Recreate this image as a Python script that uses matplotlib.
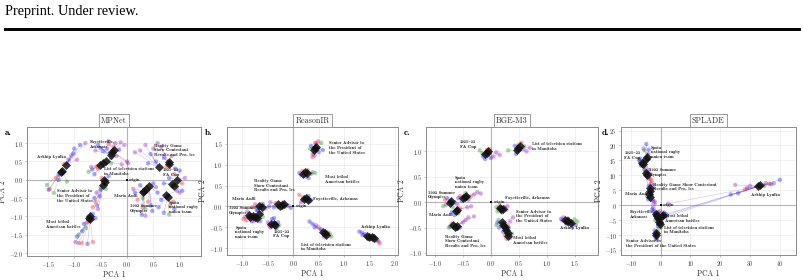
import matplotlib
matplotlib.use("Agg")
import matplotlib.pyplot as plt
from matplotlib.lines import Line2D

plt.rcParams['font.family'] = ['cmr10', 'DejaVu Serif']
plt.rcParams['mathtext.fontset'] = 'cm'
plt.rcParams['axes.formatter.use_mathtext'] = True
plt.rcParams['axes.unicode_minus'] = True

ENTITIES = ["Arkhip Lyulka", "Fayetteville, Arkansas", "List of television stations in Manitoba",
            "Senior Advisor to the President of the United States", "Most lethal American battles",
            "Maria Anfil", "1992 Summer Olympics", "Spain national rugby union team",
            "Reality Game Show Contestant Results and Profiles", "1921–22 FA Cup"]

COLORS = {"b": "#1a1aff", "r": "#ff2020", "g": "#1f9a1f", "p": "#9a22b8"}

# ---------------- MPNet ----------------
mpnet_centers = [
    [(-1.23, 0.25), (-1.15, 0.41), (-1.26, 0.20)],
    [(-0.28, 0.77), (-0.31, 0.67), (-0.24, 0.80)],
    [(-0.51, 0.41), (-0.40, 0.50), (-0.45, 0.46)],
    [(-0.43, 0.00), (-0.45, -0.13), (-0.42, -0.06)],
    [(-0.70, -0.99), (-0.70, -1.07), (-0.73, -1.03)],
    [(0.33, -0.31), (0.37, -0.26)],
    [(0.42, -0.18), (0.30, -0.33)],
    [(0.74, -0.42), (0.77, -0.46)],
    [(0.79, 0.48), (0.60, 0.36), (0.80, 0.42)],
    [(0.95, 0.00), (0.86, -0.12), (0.89, -0.17)],
]
mpnet_points = [
    [(-0.89, 0.95, 'b', 1), (-0.79, 1.00, 'p', 1), (-1.00, 0.85, 'b', 1), (-1.06, 0.66, 'p', 1),
     (-1.11, 0.55, 'b', 1), (-0.95, 0.55, 'p', 1), (-1.20, 0.43, 'r', 1), (-1.52, -0.14, 'g', 0),
     (-1.49, -0.27, 'b', 2), (-1.47, -0.25, 'r', 2), (-1.39, -0.36, 'g', 2), (-1.30, 0.00, 'b', 0),
     (-1.14, -0.05, 'g', 0), (-1.30, 0.14, 'b', 0), (-1.35, 0.05, 'r', 0), (-1.02, 0.72, 'b', 1)],
    [(-0.22, 1.00, 'p', 0), (-0.05, 0.95, 'p', 0), (-0.35, 1.05, 'p', 2), (-0.50, 0.86, 'b', 1),
     (-0.45, 0.78, 'b', 1), (-0.35, 0.97, 'r', 2), (0.00, 0.50, 'p', 0), (0.02, 0.45, 'p', 0),
     (-0.15, 0.82, 'b', 2), (-0.25, 0.90, 'r', 0), (-0.38, 0.85, 'b', 1), (-0.60, 0.80, 'p', 1),
     (-0.12, 1.02, 'p', 2), (-0.55, 0.95, 'b', 1)],
    [(-0.73, 0.22, 'g', 0), (-0.66, 0.28, 'b', 0), (-0.58, 0.36, 'r', 0), (-0.30, 0.60, 'b', 1),
     (-0.10, 0.42, 'p', 1), (-0.62, 0.15, 'b', 2), (-0.30, 0.45, 'g', 1), (-0.55, 0.30, 'r', 2),
     (-0.20, 0.65, 'p', 1), (-0.68, 0.35, 'p', 0)],
    [(-0.50, -0.27, 'b', 1), (-0.52, -0.45, 'b', 1), (-0.57, -0.70, 'b', 1), (-0.60, -0.60, 'r', 1),
     (-0.50, -0.20, 'g', 2), (-0.62, -0.50, 'b', 1), (-0.55, -0.80, 'p', 1), (-0.35, 0.10, 'b', 0),
     (-0.40, -0.25, 'g', 2), (-0.48, 0.05, 'r', 0), (-0.58, -0.35, 'p', 2), (-0.65, -0.75, 'r', 1)],
    [(-0.65, -0.93, 'b', 0), (-0.75, -1.15, 'r', 1), (-0.95, -1.55, 'b', 1), (-0.98, -1.70, 'p', 1),
     (-0.92, -1.73, 'p', 1), (-0.86, -1.73, 'r', 1), (-0.92, -1.50, 'g', 2), (-0.75, -1.75, 'b', 1),
     (-0.65, -1.70, 'r', 1), (-0.82, -1.20, 'b', 2), (-0.78, -1.32, 'g', 2), (-0.60, -1.05, 'b', 0),
     (-0.85, -1.40, 'b', 2)],
    [(0.25, -0.15, 'b', 0), (0.20, -0.55, 'r', 0), (0.15, -0.35, 'b', 0), (0.30, -0.50, 'g', 1),
     (0.50, -0.10, 'b', 1), (0.55, -0.20, 'p', 1), (0.12, -0.25, 'p', 0)],
    [(0.30, -0.75, 'r', 1), (0.35, -0.80, 'g', 1), (0.28, -0.95, 'b', 1), (0.35, -0.98, 'p', 1),
     (0.48, -0.85, 'b', 0), (0.45, -0.70, 'b', 0), (0.58, -0.35, 'b', 0), (0.40, -0.60, 'r', 0)],
    [(0.82, -0.72, 'r', 1), (0.80, -0.95, 'g', 1), (0.70, -0.90, 'b', 1), (0.88, -0.60, 'r', 0),
     (0.65, -0.55, 'b', 0), (0.95, -0.30, 'p', 0), (0.60, -0.75, 'b', 1), (0.90, -0.80, 'b', 1)],
    [(0.35, 0.95, 'p', 1), (0.25, 0.80, 'p', 1), (0.50, 0.85, 'p', 0), (0.45, 0.70, 'b', 1),
     (0.65, 0.90, 'p', 0), (0.70, 0.60, 'b', 0), (0.75, 0.35, 'r', 2), (0.55, 0.50, 'b', 1),
     (0.15, 0.75, 'p', 1), (0.85, 0.65, 'p', 0), (0.40, 0.45, 'b', 1), (0.92, 0.30, 'b', 2),
     (0.58, 1.00, 'p', 0)],
    [(1.00, 0.25, 'b', 0), (1.05, -0.10, 'r', 1), (1.05, -0.30, 'b', 2), (1.00, -0.35, 'p', 2),
     (0.95, -0.18, 'g', 1), (0.90, 0.15, 'r', 0), (0.80, 0.05, 'b', 0), (1.10, 0.05, 'p', 0),
     (0.70, -0.10, 'b', 1)],
]
mpnet_labels = [
    ("Arkhip Lyulka", -1.71, 0.61), ("Fayetteville,\nArkansas", -0.71, 0.97),
    ("List of television stations\nin Manitoba", -0.44, 0.23),
    ("Senior Advisor to\nthe President of\nthe United States", -1.33, -0.44),
    ("Maria Anfil", -0.25, -0.44), ("1992 Summer\nOlympics", 0.06, -0.78),
    ("Most lethal\nAmerican battles", -1.53, -1.22),
    ("Reality Game\nShow Contestant\nResults and Pro- les", 0.51, 0.80),
    ("1921–22\nFA Cup", 0.68, 0.20), ("Spain\nnational rugby\nunion team", 0.79, -0.75),
    ("origin", 0.04, 0.0),
]

# ---------------- ReasonIR ----------------
reasonir_centers = [
    [(1.49, -0.72), (1.55, -0.74), (1.59, -0.76), (1.45, -0.70)],
    [(0.25, 0.20), (0.22, 0.17), (0.28, 0.15)],
    [(0.62, -0.64), (0.58, -0.60), (0.65, -0.67)],
    [(0.42, 1.40), (0.40, 1.36), (0.44, 1.43)],
    [(0.23, 0.82), (0.20, 0.78), (0.26, 0.80)],
    [(-0.68, 0.00), (-0.62, -0.02)],
    [(-0.88, -0.20), (-0.85, -0.25), (-0.80, -0.22)],
    [(-0.75, -0.24), (-0.68, -0.18), (-0.72, -0.28)],
    [(-0.30, 0.05), (-0.22, 0.03), (-0.18, 0.06), (-0.26, 0.00)],
    [(-0.38, -0.42), (-0.44, -0.42), (-0.35, -0.45)],
]
reasonir_points = [
    [(1.30, -0.60, 'b', 3), (1.35, -0.62, 'p', 3), (1.40, -0.66, 'b', 3), (1.70, -0.88, 'r', 2),
     (1.62, -0.82, 'r', 2), (1.65, -0.80, 'b', 2), (1.50, -0.78, 'p', 1), (1.56, -0.70, 'g', 1),
     (1.36, -0.68, 'b', 0), (1.68, -0.84, 'p', 2)],
    [(0.12, 0.28, 'r', 1), (0.15, 0.10, 'p', 1), (0.35, 0.15, 'b', 2), (0.30, 0.25, 'b', 0),
     (0.20, 0.22, 'g', 0), (0.32, 0.12, 'p', 2), (0.18, 0.15, 'r', 1)],
    [(0.32, -0.36, 'b', 1), (0.38, -0.42, 'b', 1), (0.45, -0.45, 'p', 1), (0.50, -0.50, 'r', 1),
     (0.55, -0.55, 'b', 0), (0.70, -0.70, 'p', 2), (0.75, -0.72, 'g', 2), (0.68, -0.62, 'r', 2),
     (0.42, -0.50, 'b', 1), (0.60, -0.72, 'p', 0), (0.72, -0.65, 'g', 2)],
    [(0.49, 1.56, 'r', 2), (0.43, 1.52, 'r', 2), (0.55, 1.52, 'g', 2), (0.58, 1.35, 'b', 0),
     (0.42, 1.22, 'p', 1), (0.38, 1.25, 'p', 1), (0.35, 1.45, 'b', 0), (0.38, 1.18, 'r', 1),
     (0.50, 1.30, 'b', 0), (0.45, 1.50, 'p', 2), (0.33, 1.38, 'g', 1)],
    [(0.38, 0.82, 'g', 2), (0.43, 0.80, 'g', 2), (0.30, 0.68, 'b', 0), (0.15, 0.75, 'p', 1),
     (0.18, 0.85, 'r', 1), (0.25, 0.72, 'b', 0), (0.35, 0.78, 'p', 2), (0.28, 0.87, 'r', 0),
     (0.12, 0.80, 'b', 1)],
    [(-0.75, 0.05, 'p', 0), (-0.80, -0.02, 'r', 0), (-0.60, 0.06, 'b', 1), (-0.55, -0.05, 'p', 1),
     (-0.72, -0.08, 'b', 0), (-0.65, 0.05, 'r', 1)],
    [(-0.98, -0.30, 'r', 0), (-0.95, -0.25, 'p', 0), (-0.75, -0.30, 'b', 2), (-0.90, -0.12, 'p', 0),
     (-0.82, -0.35, 'b', 1), (-0.78, -0.20, 'g', 2), (-0.92, -0.33, 'r', 1)],
    [(-0.65, -0.35, 'b', 2), (-0.62, -0.15, 'p', 1), (-0.82, -0.28, 'r', 0), (-0.70, -0.10, 'b', 1),
     (-0.60, -0.25, 'g', 1), (-0.78, -0.35, 'p', 2)],
    [(-0.45, 0.10, 'p', 0), (-0.48, 0.00, 'b', 0), (-0.35, 0.08, 'r', 0), (-0.10, 0.02, 'p', 2),
     (-0.05, -0.03, 'b', 2), (-0.20, 0.10, 'r', 1), (-0.30, -0.02, 'p', 3), (-0.15, 0.00, 'g', 2),
     (-0.38, -0.02, 'b', 3)],
    [(-0.42, -0.30, 'b', 1), (-0.38, -0.28, 'b', 0), (-0.50, -0.38, 'p', 1), (-0.48, -0.45, 'r', 1),
     (-0.28, -0.45, 'g', 2), (-0.30, -0.38, 'b', 0), (-0.45, -0.50, 'p', 1), (-0.33, -0.52, 'b', 2)],
]
reasonir_labels = [
    ("Senior Advisor to\nthe President of\nthe United States", 0.71, 1.40),
    ("Most lethal\nAmerican battles", 0.62, 0.65), ("Fayetteville, Arkansas", 0.39, 0.18),
    ("origin", 0.06, 0.0), ("Reality Game\nShow Contestant\nResults and Pro- les", -0.78, 0.50),
    ("Maria Anfil", -1.20, 0.18), ("1992 Summer\nOlympics", -1.27, -0.10),
    ("Spain\nnational rugby\nunion team", -1.14, -0.62), ("1921–22\nFA Cup", -0.39, -0.66),
    ("List of television stations\nin Manitoba", 0.16, -0.97), ("Arkhip Lyulka", 1.33, -0.48),
]

# ---------------- BGE-M3 ----------------
bge_centers = [
    [(1.33, -0.35), (1.39, -0.38), (1.43, -0.41), (1.37, -0.37)],
    [(0.19, -0.13), (0.17, -0.11), (0.22, -0.14)],
    [(0.49, 1.06), (0.52, 1.10), (0.47, 1.02)],
    [(0.22, -0.44), (0.25, -0.48), (0.20, -0.40)],
    [(0.31, -0.61), (0.28, -0.55), (0.30, -0.66)],
    [(-0.61, -0.15), (-0.63, -0.18)],
    [(-0.73, -0.02), (-0.71, 0.02)],
    [(-0.47, 0.11), (-0.50, 0.08), (-0.44, 0.12)],
    [(-0.67, -0.45), (-0.61, -0.46), (-0.64, -0.48)],
    [(-0.07, 0.97), (-0.11, 0.94), (-0.05, 1.00)],
]
bge_points = [
    [(1.30, -0.30, 'p', 0), (1.26, -0.33, 'b', 0), (1.55, -0.38, 'g', 2), (1.50, -0.34, 'g', 2),
     (1.46, -0.40, 'r', 2), (1.45, -0.45, 'b', 2), (1.35, -0.42, 'p', 1), (1.38, -0.32, 'r', 3),
     (1.52, -0.45, 'b', 2), (1.28, -0.36, 'p', 0)],
    [(0.10, -0.10, 'g', 1), (0.12, -0.18, 'g', 0), (0.25, -0.10, 'b', 2), (0.15, -0.08, 'r', 1),
     (0.28, -0.15, 'p', 2), (0.20, -0.20, 'b', 0), (0.30, -0.08, 'p', 2)],
    [(0.55, 1.17, 'r', 1), (0.31, 1.02, 'g', 2), (0.64, 1.00, 'p', 0), (0.43, 1.11, 'b', 1),
     (0.58, 1.04, 'p', 0), (0.45, 0.95, 'b', 2), (0.50, 1.13, 'r', 1), (0.70, 1.07, 'p', 0),
     (0.60, 1.10, 'g', 1)],
    [(0.10, -0.45, 'g', 0), (0.14, -0.35, 'g', 2), (0.15, -0.50, 'b', 1), (0.40, -0.30, 'p', 2),
     (0.35, -0.38, 'p', 2), (0.30, -0.45, 'r', 1), (0.12, -0.40, 'b', 2)],
    [(0.22, -0.58, 'b', 1), (0.35, -0.70, 'p', 2), (0.38, -0.62, 'g', 0), (0.25, -0.65, 'r', 2),
     (0.32, -0.50, 'b', 1), (0.28, -0.72, 'p', 2)],
    [(-0.70, -0.20, 'b', 1), (-0.55, -0.12, 'r', 0), (-0.42, -0.10, 'p', 0), (-0.35, -0.08, 'p', 0),
     (-0.65, -0.25, 'b', 1), (-0.58, -0.22, 'g', 1)],
    [(-0.82, 0.05, 'r', 1), (-0.80, -0.05, 'p', 0), (-0.85, -0.08, 'g', 0), (-0.65, 0.00, 'b', 1),
     (-0.60, -0.05, 'p', 0), (-0.78, 0.08, 'b', 1), (-0.68, -0.10, 'g', 0)],
    [(-0.24, 0.20, 'p', 2), (-0.18, 0.17, 'p', 2), (-0.55, 0.12, 'r', 1), (-0.58, 0.08, 'b', 1),
     (-0.40, 0.05, 'b', 0), (-0.30, 0.15, 'p', 2), (-0.45, 0.18, 'g', 0), (-0.36, 0.10, 'r', 2),
     (-0.52, 0.03, 'b', 1)],
    [(-0.40, -0.30, 'p', 1), (-0.30, -0.28, 'p', 1), (-0.45, -0.35, 'p', 1), (-0.73, -0.48, 'b', 0),
     (-0.70, -0.42, 'r', 0), (-0.55, -0.50, 'b', 2), (-0.75, -0.50, 'g', 0), (-0.50, -0.40, 'p', 1),
     (-0.60, -0.52, 'b', 2)],
    [(-0.20, 1.02, 'g', 1), (-0.07, 1.03, 'r', 0), (0.10, 0.98, 'p', 2), (0.16, 0.93, 'p', 2),
     (0.00, 0.87, 'b', 0), (-0.14, 0.90, 'b', 1), (-0.02, 1.04, 'r', 2), (0.05, 0.90, 'p', 0),
     (-0.10, 0.85, 'b', 1), (-0.15, 0.96, 'g', 1)],
]
bge_labels = [
    ("1921–22\nFA Cup", -0.56, 1.13), ("List of television stations\nin Manitoba", 0.73, 1.10),
    ("Spain\nnational rugby\nunion team", -0.64, 0.39), ("1992 Summer\nOlympics", -1.12, 0.14),
    ("Maria Anfil", -1.10, -0.26), ("Reality Game\nShow Contestant\nResults and Pro- les", -0.82, -0.77),
    ("origin", 0.06, 0.0), ("Fayetteville, Arkansas", 0.25, 0.08),
    ("Senior Advisor to\nthe President of\nthe United States", 0.45, -0.28),
    ("Most lethal\nAmerican battles", 0.40, -0.76), ("Arkhip Lyulka", 1.24, -0.51),
]

# ---------------- SPLADE ----------------
splade_centers = [
    [(32.8, 6.3), (33.4, 6.6)],
    [(-1.2, -3.5), (-0.9, -4.3), (-1.6, -3.1)],
    [(-0.3, -6.3), (-0.6, -5.7)],
    [(-1.4, -9.4), (-1.6, -10.1)],
    [(0.8, -3.2), (0.4, -3.6)],
    [(-3.8, 3.8), (-3.5, 2.6)],
    [(-4.8, 10.9), (-4.5, 10.2)],
    [(-4.6, 16.0), (-4.9, 15.4)],
    [(-3.7, 5.9), (-3.5, 4.8)],
    [(-6.2, 14.3), (-5.9, 13.9)],
]
splade_points = [
    [(40.0, 8.5, 'b', 1), (38.0, 7.3, 'p', 1), (37.0, 7.0, 'b', 1), (36.3, 7.2, 'r', 1),
     (34.8, 6.4, 'g', 1), (35.2, 7.4, 'p', 1), (29.0, 5.8, 'b', 0), (28.3, 5.3, 'r', 0),
     (26.0, 4.0, 'b', 0), (23.5, 3.6, 'b', 0), (25.0, 6.8, 'p', 0), (30.0, 6.5, 'p', 0),
     (1.8, -3.0, 'b', 0), (1.0, -3.6, 'p', 0), (2.0, -3.8, 'b', 0), (2.5, 0.5, 'p', 0)],
    [(-2.0, -3.0, 'b', 0), (-0.5, -4.6, 'p', 1), (-1.8, -5.0, 'g', 1), (-0.8, -2.4, 'b', 0),
     (-1.5, -4.2, 'r', 2), (-2.3, -2.0, 'b', 2), (-2.6, -1.0, 'p', 2)],
    [(0.2, -7.3, 'g', 0), (-0.9, -7.0, 'b', 0), (-0.2, -5.0, 'r', 1), (0.4, -6.0, 'p', 0),
     (-1.0, -5.5, 'b', 1), (-0.5, -7.8, 'g', 0)],
    [(-1.6, -11.2, 'b', 1), (-1.2, -10.6, 'g', 1), (-2.0, -8.5, 'b', 0), (-1.0, -9.0, 'r', 0),
     (-1.8, -10.4, 'p', 1), (-1.3, -11.6, 'b', 1), (-1.1, -4.5, 'b', 0)],
    [(1.2, -2.5, 'b', 0), (-0.2, -2.0, 'p', 0), (0.2, -4.0, 'g', 1), (1.5, -3.8, 'b', 0),
     (0.0, -3.0, 'r', 1), (-0.3, -4.8, 'b', 1)],
    [(-4.2, 2.0, 'b', 1), (-2.5, 1.5, 'p', 1), (-2.0, 1.2, 'p', 1), (-3.2, 1.8, 'b', 1),
     (-4.5, 3.0, 'g', 0), (-3.0, 3.2, 'r', 0), (-2.8, -1.5, 'b', 1)],
    [(-4.0, 11.8, 'p', 0), (-3.9, 9.0, 'r', 1), (-5.2, 11.5, 'b', 0), (-4.4, 9.5, 'b', 1),
     (-3.6, 10.5, 'p', 1), (-5.5, 12.0, 'g', 0)],
    [(-4.8, 20.5, 'b', 0), (-5.7, 19.0, 'p', 0), (-4.0, 18.6, 'b', 0), (-5.5, 18.4, 'g', 0),
     (-4.2, 17.2, 'p', 0), (-5.2, 14.5, 'r', 1), (-1.5, -2.5, 'b', 1)],
    [(-3.2, 7.3, 'p', 0), (-3.0, 8.2, 'r', 0), (-2.5, 6.5, 'p', 0), (-4.0, 6.5, 'b', 0),
     (-3.3, 4.0, 'b', 1), (-3.5, 8.8, 'r', 0), (-2.0, 0.5, 'p', 1)],
    [(-7.3, 15.2, 'g', 0), (-7.0, 14.8, 'b', 0), (-5.6, 13.6, 'r', 1), (-6.5, 13.2, 'b', 1),
     (-5.2, 12.8, 'p', 1), (-1.8, -3.5, 'b', 1), (-6.8, 15.6, 'b', 0)],
]
splade_labels = [
    ("Spain\nnational rugby\nunion team", -3.2, 17.7), ("1921–22\nFA Cup", -12.2, 16.7),
    ("1992 Summer\nOlympics", -4.0, 10.9),
    ("Reality Game Show Contestant\nResults and Pro- les", -2.7, 6.1),
    ("Maria Anfil", -11.8, 3.8), ("origin", 0.8, 0.0), ("Fayetteville,\nArkansas", -10.4, -3.2),
    ("Most lethal\nAmerican battles", 1.6, -4.5),
    ("List of television stations\nin Manitoba", 1.0, -8.3),
    ("Senior Advisor to\nthe President of the United States", -11.5, -12.8),
    ("Arkhip Lyulka", 30.2, 3.4),
]

PANELS = [
    ("MPNet", "a.", mpnet_centers, mpnet_points, mpnet_labels,
     (-1.90, 1.40), (-2.08, 1.44), [-1.5, -1.0, -0.5, 0.0, 0.5, 1.0], [-2.0, -1.5, -1.0, -0.5, 0.0, 0.5, 1.0]),
    ("ReasonIR", "b.", reasonir_centers, reasonir_points, reasonir_labels,
     (-1.31, 2.06), (-1.16, 1.90), [-1.0, -0.5, 0.0, 0.5, 1.0, 1.5, 2.0], [-1.0, -0.5, 0.0, 0.5, 1.0, 1.5]),
    ("BGE-M3", "c.", bge_centers, bge_points, bge_labels,
     (-1.16, 1.92), (-1.04, 1.48), [-1.0, -0.5, 0.0, 0.5, 1.0, 1.5], [-1.0, -0.5, 0.0, 0.5, 1.0]),
    ("SPLADE", "d.", splade_centers, splade_points, splade_labels,
     (-13.3, 45.3), (-16.7, 26.2), [-10, 0, 10, 20, 30, 40], [-15, -10, -5, 0, 5, 10, 15, 20, 25]),
]

W, H = 804, 280
AX_RECTS = [
    (27, 127, 200.7, 256),
    (226.7, 127, 398, 255),
    (426, 127, 598, 255),
    (621, 127, 795.7, 255),
]
LETTER_X = [5, 205, 404, 602]

fig = plt.figure(figsize=(W / 100, H / 100), dpi=100)

fig.text(5 / W, 1 - 15 / H, "Preprint. Under review.", family="Liberation Serif",
         fontsize=10.3, va="baseline", ha="left")
fig.add_artist(Line2D([5 / W, 799 / W], [1 - 29 / H, 1 - 29 / H], lw=2.1, color="black"))

LABEL_FONT = ['cmb10', 'DejaVu Serif']
SPINE = "#8c8c8c"

for i, ((title, letter, centers, points, labels, xlim, ylim, xt, yt), rect, lx) in enumerate(
        zip(PANELS, AX_RECTS, LETTER_X)):
    x0, y0, x1, y1 = rect
    ax = fig.add_axes([x0 / W, 1 - y1 / H, (x1 - x0) / W, (y1 - y0) / H])
    ax.set_xlim(*xlim)
    ax.set_ylim(*ylim)
    ax.set_xticks(xt)
    ax.set_yticks(yt)
    ax.grid(True, color="#ececec", lw=0.5, zorder=0)
    ax.set_axisbelow(True)
    ax.axhline(0, color="#b4b4b4", lw=0.8, zorder=1)
    ax.axvline(0, color="#b4b4b4", lw=0.8, zorder=1)
    for s in ax.spines.values():
        s.set_color(SPINE)
        s.set_linewidth(0.7)
    ax.tick_params(labelsize=4.3, length=1.6, width=0.4, color=SPINE, pad=1.2, labelcolor="#333333")
    ax.set_xlabel("PCA 1", fontsize=5.5, labelpad=1.2 if i == 0 else 1.5, color="#333333")
    ax.set_ylabel("PCA 2", fontsize=5.5, labelpad=1.5, color="#333333")

    for ent_c, ent_p in zip(centers, points):
        for (px, py, c, k) in ent_p:
            cx, cy = ent_c[k]
            ax.plot([px, cx], [py, cy], color=COLORS[c], alpha=0.28, lw=0.45, zorder=2)
        ax.scatter([p[0] for p in ent_p], [p[1] for p in ent_p],
                   c=[COLORS[p[2]] for p in ent_p], s=10, alpha=0.38, lw=0, zorder=3)
        ax.scatter([c[0] for c in ent_c], [c[1] for c in ent_c], marker="D", s=21,
                   c="#111111", alpha=0.85, lw=0, zorder=4)
    ax.scatter([0], [0], marker="s", s=3, c="black", lw=0, zorder=5)

    for txt, tx, ty in labels:
        ax.text(tx, ty, txt, fontsize=3.3, family=LABEL_FONT, ha="left", va="center",
                multialignment="left", linespacing=1.25, color="#222222", zorder=6)

    ax.annotate(title, xy=(0.5, 1.0), xycoords="axes fraction", xytext=(0, 1.6),
                textcoords="offset points", ha="center", va="bottom", fontsize=5.8,
                color="#333333", zorder=7, annotation_clip=False,
                bbox=dict(boxstyle="square,pad=0.28", facecolor="white", edgecolor=SPINE, lw=0.6))
    fig.text(lx / W, 1 - 133 / H, letter, fontsize=6.5, family=LABEL_FONT, ha="left", va="center")

fig.savefig("out.png", dpi=100)
